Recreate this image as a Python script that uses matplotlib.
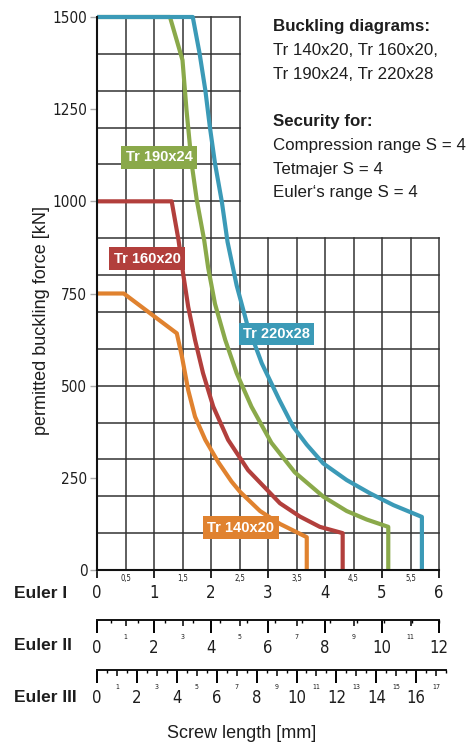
import matplotlib
matplotlib.use('Agg')
import matplotlib.pyplot as plt
from matplotlib import font_manager
import numpy as np

W, H = 472, 745

# buckling curves, x in Euler I screw length units, y in kN
x_140 = [0, 0.47, 1.40, 1.49, 1.60, 1.72, 1.90, 2.13, 2.36, 2.51, 2.86, 3.21, 3.68, 3.68]
y_140 = [750, 750, 642, 579, 488, 416, 353, 292, 240, 212, 160, 125, 89, 0]

x_160 = [0, 1.31, 1.43, 1.51, 1.60, 1.72, 1.86, 2.04, 2.30, 2.65, 3.21, 3.56, 3.91, 4.31, 4.31]
y_160 = [1000, 1000, 895, 805, 714, 624, 534, 443, 353, 271, 181, 145, 117, 100, 0]

x_190 = [0, 1.28, 1.50, 1.57, 1.66, 1.75, 1.88, 1.95, 2.07, 2.25, 2.45, 2.71, 3.06, 3.47, 3.97, 4.38, 4.73, 5.11, 5.11]
y_190 = [1500, 1500, 1383, 1248, 1103, 1004, 895, 820, 722, 624, 534, 443, 345, 265, 199, 160, 137, 117, 0]

x_220 = [0, 1.68, 1.80, 1.90, 1.98, 2.07, 2.19, 2.29, 2.45, 2.63, 2.89, 3.20, 3.44, 3.68, 3.97, 4.38, 4.79, 5.20, 5.70, 5.70]
y_220 = [1500, 1500, 1401, 1302, 1202, 1103, 999, 890, 772, 669, 561, 461, 389, 340, 289, 244, 208, 176, 144, 0]

names = ['Tr 140x20', 'Tr 160x20', 'Tr 190x24', 'Tr 220x28']
colors = ['#e0822f', '#b23f3c', '#8aa94a', '#3b9ab7']
label_xy = [(2.52, 115), (0.88, 844), (1.09, 1119), (3.15, 640)]

y_ticks = [0, 250, 500, 750, 1000, 1250, 1500]
info_lines = [('Buckling diagrams:', 'bold'),
              ('Tr 140x20, Tr 160x20,', 'normal'),
              ('Tr 190x24, Tr 220x28', 'normal'),
              ('', 'normal'),
              ('Security for:', 'bold'),
              ('Compression range S = 4', 'normal'),
              ('Tetmajer S = 4', 'normal'),
              ('Euler\u2018s range S = 4', 'normal')]

TXT = ['Liberation Sans', 'DejaVu Sans']
INK = '#1e1e1e'

# a condensed face for the scale numbers, if one is there
cond = font_manager.findfont(font_manager.FontProperties(family='DejaVu Sans', stretch='condensed'))
if 'ondensed' in cond:
    NUM = dict(family='DejaVu Sans', stretch='condensed')
    num_scale = 1.0
else:
    NUM = dict(family='Liberation Sans')
    num_scale = 0.92
plt.rcParams['font.family'] = [NUM['family'], 'DejaVu Sans']
if 'stretch' in NUM:
    plt.rcParams['font.stretch'] = 'condensed'


def fx(px):
    return px / W


def fy(py):
    return 1 - py / H


fig = plt.figure(figsize=(W / 100, H / 100), dpi=100)
ax = fig.add_axes([fx(97), fy(570), 342 / W, 553 / H])
ax.set_xlim(0, 6)
ax.set_ylim(0, 1500)
ax.patch.set_visible(False)

# grid, the upper right part is left free for the notes
for gy in np.arange(100, 1501, 100):
    ax.plot([0, 6 if gy <= 900 else 2.5], [gy, gy], color='#333333', lw=1.1, zorder=1, clip_on=False)
for gx in np.arange(0.5, 6.01, 0.5):
    ax.plot([gx, gx], [0, 1500 if gx <= 2.5 else 900], color='#333333', lw=1.1, zorder=1, clip_on=False)

curves = [(x_140, y_140), (x_160, y_160), (x_190, y_190), (x_220, y_220)]
for (xs, ys), c in zip(curves, colors):
    ax.plot(xs, ys, color=c, lw=3, zorder=3, clip_on=False, solid_capstyle='butt')

for name, c, (lx, ly) in zip(names, colors, label_xy):
    ax.text(lx, ly, name, color='white', fontweight='bold', fontsize=10.5, family=TXT,
            ha='center', va='center', zorder=5,
            bbox=dict(boxstyle='square,pad=0.3', fc=c, ec='none'))

for s in ['top', 'right']:
    ax.spines[s].set_visible(False)
for s in ['left', 'bottom']:
    ax.spines[s].set_linewidth(1.5)
    ax.spines[s].set_color('#111111')
    ax.spines[s].set_zorder(4)

ax.set_yticks(y_ticks)
ax.set_yticklabels([str(v) for v in y_ticks])
ax.tick_params(axis='y', length=5, width=1, color='#aaaaaa', labelsize=11 * num_scale, pad=2, labelcolor=INK)

ax.set_xticks(range(0, 7))
ax.set_xticklabels([str(v) for v in range(0, 7)])
halves = np.arange(0.5, 6, 1)
ax.set_xticks(halves, minor=True)
ax.set_xticklabels([('%.1f' % v).replace('.', ',') for v in halves], minor=True)
ax.tick_params(axis='x', which='major', length=5.8, width=1.2, pad=4, labelsize=12 * num_scale, labelcolor=INK)
ax.tick_params(axis='x', which='minor', length=0, pad=3, labelsize=5.5, labelcolor=INK)


def scale_axis(top_px, width_px, xmax, n_max):
    a = fig.add_axes([fx(97), fy(top_px), width_px / W, 0.0001])
    a.set_xlim(0, xmax)
    a.set_yticks([])
    a.patch.set_visible(False)
    for s in ['top', 'left', 'right']:
        a.spines[s].set_visible(False)
    a.spines['bottom'].set_linewidth(1.4)
    a.spines['bottom'].set_color('#111111')
    ev = list(range(0, n_max + 1, 2))
    od = list(range(1, n_max + 1, 2))
    a.set_xticks(ev)
    a.set_xticklabels([str(v) for v in ev])
    a.set_xticks(od, minor=True)
    a.set_xticklabels([str(v) for v in od], minor=True)
    a.tick_params(which='major', length=9.4, width=1.4, pad=4, labelsize=12 * num_scale, labelcolor=INK)
    a.tick_params(which='minor', length=4.3, width=1.1, pad=6, labelsize=5, labelcolor=INK)
    t = a.twiny()
    t.set_xlim(0, xmax)
    t.xaxis.set_ticks_position('bottom')
    t.set_xticks(np.arange(0.5, n_max + 0.6, 1))
    t.set_xticklabels([])
    t.tick_params(length=2.3, width=1.0)
    for s in t.spines.values():
        s.set_visible(False)
    return a


scale_axis(620, 342, 12, 12)
scale_axis(670, 342 * 17.5 / (6 * 20 / 7), 17.5, 17)

for txt, py in [('Euler I', 593), ('Euler II', 646), ('Euler III', 697)]:
    fig.text(fx(14), fy(py), txt, fontsize=12.5, fontweight='bold', family=TXT, color=INK,
             va='center', ha='left')

fig.text(fx(242), fy(733), 'Screw length [mm]', fontsize=13, family=TXT, color=INK, ha='center', va='center')
fig.text(fx(42), fy(320), 'permitted buckling force [kN]', fontsize=13, family=TXT, color=INK,
         rotation=90, ha='center', va='center')

for i, (txt, wt) in enumerate(info_lines):
    if txt:
        fig.text(fx(273), fy(27 + i * 23.7), txt, fontsize=12.2, fontweight=wt, family=TXT,
                 color=INK, ha='left', va='center')

fig.savefig('out.png', dpi=100)
